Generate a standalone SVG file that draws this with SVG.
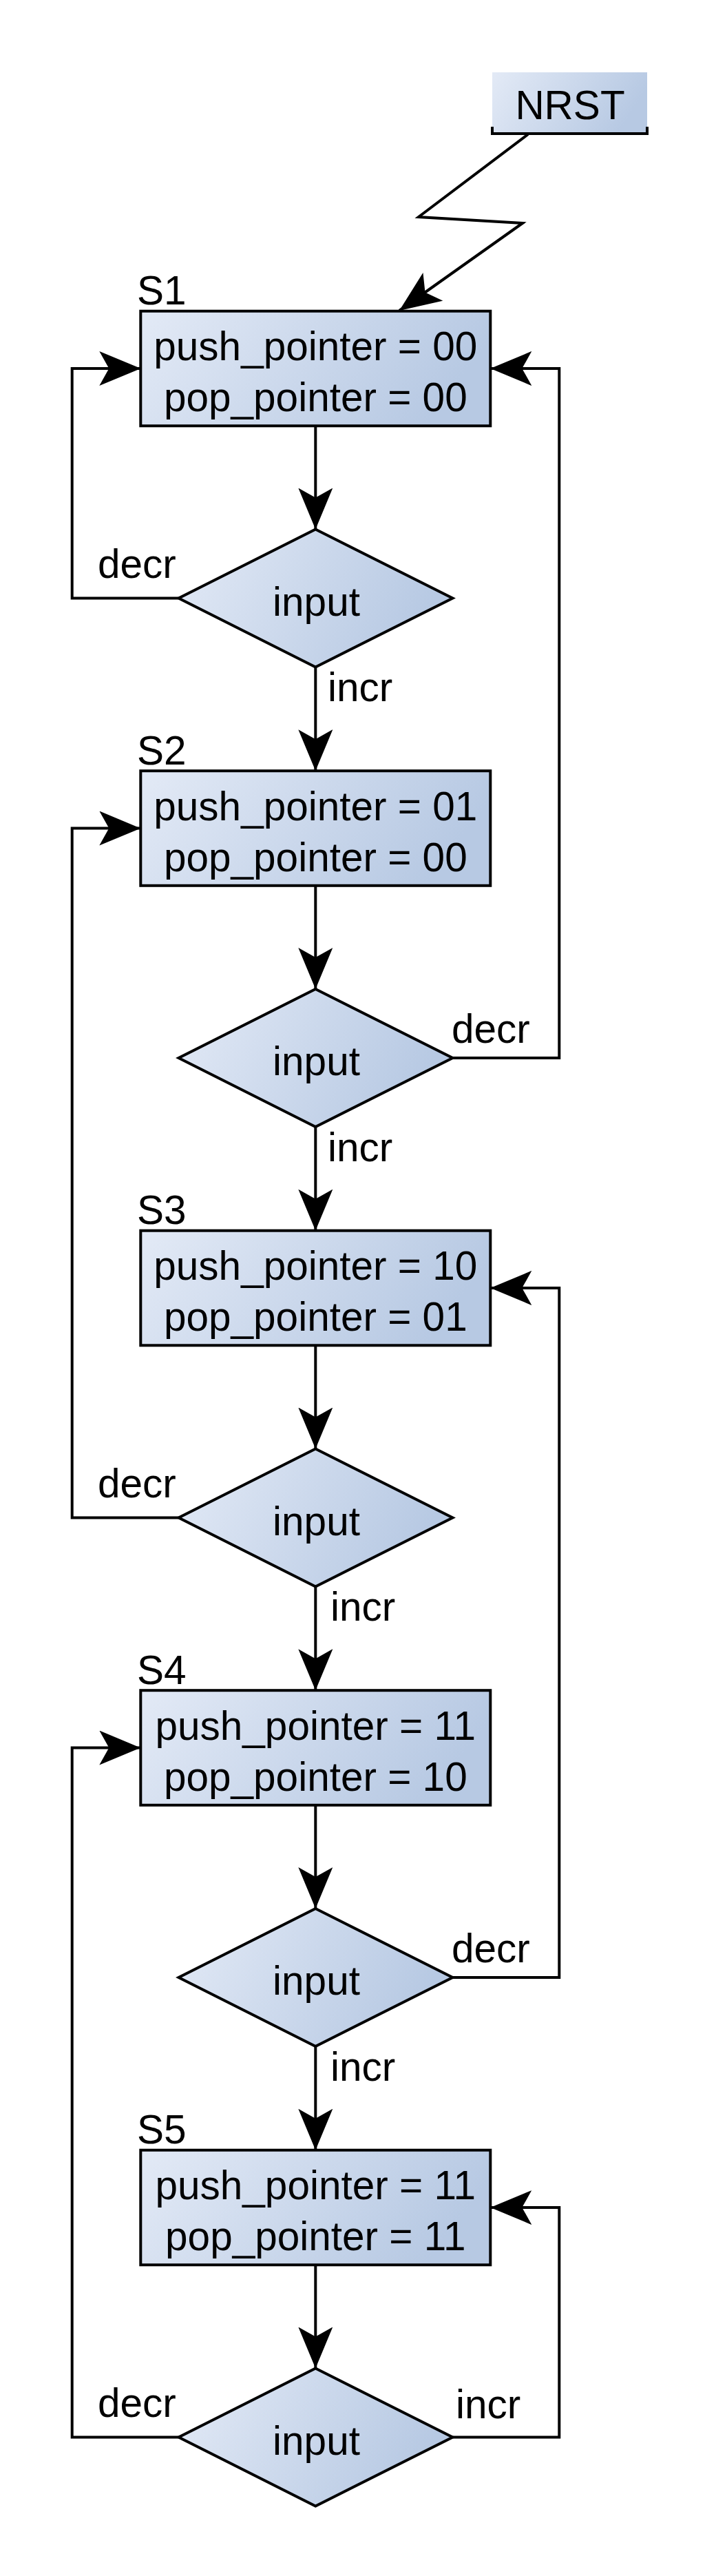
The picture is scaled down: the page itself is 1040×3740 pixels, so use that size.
<svg xmlns="http://www.w3.org/2000/svg" width="1040" height="3740" viewBox="0 0 1040 3740">
<defs>
<linearGradient id="g" x1="0" y1="0" x2="1" y2="0.25">
<stop offset="0" stop-color="#e3eaf6"/>
<stop offset="1" stop-color="#b7c9e3"/>
</linearGradient>
<marker id="ah" markerUnits="userSpaceOnUse" viewBox="0 0 60 50" refX="60" refY="25" markerWidth="60" markerHeight="50" orient="auto">
<path d="M60,25 L0,0 L14,25 L0,50 Z" fill="#000"/>
</marker>
</defs>
<style>
text{font-family:"Liberation Sans",Arial,sans-serif;font-size:58.5px;fill:#000}
.box{fill:url(#g);stroke:#000;stroke-width:4}
.dia{fill:url(#g);stroke:#000;stroke-width:4;stroke-linejoin:miter}
.c{text-anchor:middle}
.ln{fill:none;stroke:#000;stroke-width:4}
.ar{fill:none;stroke:#000;stroke-width:4;marker-end:url(#ah)}
</style>
<rect width="1040" height="3740" fill="#fff"/>

<g id="connectors">
<path class="ar" d="M767,195 L608,315 L759,324 L580,451"/>
<!-- vertical flow -->
<path class="ar" d="M458.3,618.3 V768.5"/>
<path class="ar" d="M458.3,968.5 V1119.2"/>
<path class="ar" d="M458.3,1285.8 V1436"/>
<path class="ar" d="M458.3,1636 V1786.7"/>
<path class="ar" d="M458.3,1953.3 V2103.5"/>
<path class="ar" d="M458.3,2303.5 V2454.2"/>
<path class="ar" d="M458.3,2620.8 V2771"/>
<path class="ar" d="M458.3,2971 V3121.7"/>
<path class="ar" d="M458.3,3288.3 V3438.5"/>
<!-- loops -->
<path class="ar" d="M259.5,868.5 H104.7 V535 H204.3"/>
<path class="ar" d="M657.5,1536 H812.3 V535 H712.3"/>
<path class="ar" d="M259.5,2203.5 H104.7 V1202.5 H204.3"/>
<path class="ar" d="M657.5,2871 H812.3 V1870 H712.3"/>
<path class="ar" d="M259.5,3538.5 H104.7 V2537.5 H204.3"/>
<path class="ar" d="M657.5,3538.5 H812.3 V3205 H712.3"/>
<!-- labels -->
<text x="142" y="839">decr</text>
<text x="476" y="1018">incr</text>
<text x="656" y="1514">decr</text>
<text x="476" y="1686">incr</text>
<text x="142" y="2174">decr</text>
<text x="480" y="2353">incr</text>
<text x="656" y="2849">decr</text>
<text x="480" y="3021">incr</text>
<text x="142" y="3509">decr</text>
<text x="662" y="3511">incr</text>
</g>

<g id="nrst">
<rect x="715" y="105" width="225" height="89" fill="url(#g)"/>
<path class="ln" d="M715,184 V194 H940 V184"/>
<text class="c" x="828" y="173">NRST</text>
</g>

<g id="s1">
<text x="199" y="442">S1</text>
<rect class="box" x="204.3" y="451.7" width="508" height="166.6"/>
<text class="c" x="458.3" y="523">push_pointer = 00</text>
<text class="c" x="458.3" y="597">pop_pointer = 00</text>
</g>
<g id="d1">
<path class="dia" d="M458.3,768.5 L657.5,868.5 L458.3,968.5 L259.5,868.5 Z"/>
<text class="c" x="459.5" y="893.5">input</text>
</g>

<g id="s2">
<text x="199" y="1109.5">S2</text>
<rect class="box" x="204.3" y="1119.2" width="508" height="166.6"/>
<text class="c" x="458.3" y="1190.5">push_pointer = 01</text>
<text class="c" x="458.3" y="1264.5">pop_pointer = 00</text>
</g>
<g id="d2">
<path class="dia" d="M458.3,1436 L657.5,1536 L458.3,1636 L259.5,1536 Z"/>
<text class="c" x="459.5" y="1561">input</text>
</g>

<g id="s3">
<text x="199" y="1777">S3</text>
<rect class="box" x="204.3" y="1786.7" width="508" height="166.6"/>
<text class="c" x="458.3" y="1858">push_pointer = 10</text>
<text class="c" x="458.3" y="1932">pop_pointer = 01</text>
</g>
<g id="d3">
<path class="dia" d="M458.3,2103.5 L657.5,2203.5 L458.3,2303.5 L259.5,2203.5 Z"/>
<text class="c" x="459.5" y="2228.5">input</text>
</g>

<g id="s4">
<text x="199" y="2444.5">S4</text>
<rect class="box" x="204.3" y="2454.2" width="508" height="166.6"/>
<text class="c" x="458.3" y="2525.5">push_pointer = 11</text>
<text class="c" x="458.3" y="2599.5">pop_pointer = 10</text>
</g>
<g id="d4">
<path class="dia" d="M458.3,2771 L657.5,2871 L458.3,2971 L259.5,2871 Z"/>
<text class="c" x="459.5" y="2896">input</text>
</g>

<g id="s5">
<text x="199" y="3112">S5</text>
<rect class="box" x="204.3" y="3121.7" width="508" height="166.6"/>
<text class="c" x="458.3" y="3193">push_pointer = 11</text>
<text class="c" x="458.3" y="3267">pop_pointer = 11</text>
</g>
<g id="d5">
<path class="dia" d="M458.3,3438.5 L657.5,3538.5 L458.3,3638.5 L259.5,3538.5 Z"/>
<text class="c" x="459.5" y="3563.5">input</text>
</g>
</svg>
